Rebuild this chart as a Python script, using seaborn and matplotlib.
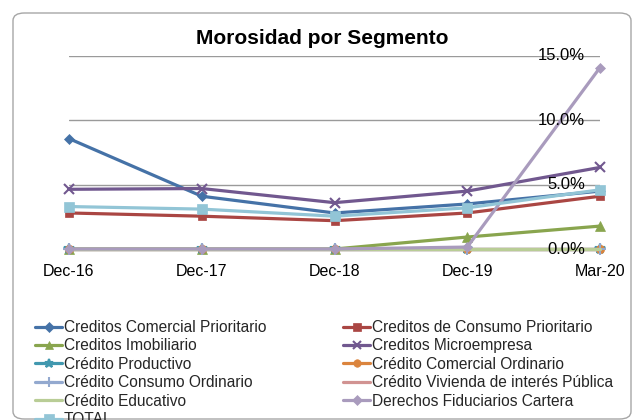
import matplotlib
matplotlib.use("Agg")
import matplotlib.pyplot as plt
import matplotlib.transforms as mtransforms
from matplotlib import font_manager
from matplotlib.patches import FancyBboxPatch
import seaborn as sns
import pandas as pd

categories = ["Dec-16", "Dec-17", "Dec-18", "Dec-19", "Mar-20"]
series_names = [
    "Creditos Comercial Prioritario",
    "Creditos de Consumo Prioritario",
    "Creditos Imobiliario",
    "Creditos Microempresa",
    "Crédito Productivo",
    "Crédito Comercial Ordinario",
    "Crédito Consumo Ordinario",
    "Crédito Vivienda de interés Pública",
    "Crédito Educativo",
    "Derechos Fiduciarios Cartera",
    "TOTAL",
]
comercial_prioritario = [0.0858, 0.0410, 0.0280, 0.0350, 0.0450]
consumo_prioritario = [0.0280, 0.0255, 0.0220, 0.0280, 0.0410]
imobiliario = [0.0, 0.0, 0.0, 0.0093, 0.0178]
microempresa = [0.0464, 0.0470, 0.0360, 0.0450, 0.0634]
productivo = [0.0, 0.0, 0.0, 0.0, 0.0]
comercial_ordinario = [0.0, 0.0, 0.0, 0.0, 0.0]
consumo_ordinario = [0.0, 0.0, 0.0, 0.0, 0.0]
vivienda_publica = [0.0, 0.0, 0.0, 0.0, 0.0]
educativo = [0.0, 0.0, 0.0, 0.0, 0.0]
derechos_fiduciarios = [0.0, 0.0, 0.0, 0.0015, 0.1410]
total = [0.0330, 0.0310, 0.0255, 0.0320, 0.0460]
y_ticks = [0.0, 0.05, 0.10, 0.15]
y_tick_labels = ["0.0%", "5.0%", "10.0%", "15.0%"]

values = [comercial_prioritario, consumo_prioritario, imobiliario, microempresa,
          productivo, comercial_ordinario, consumo_ordinario, vivienda_publica,
          educativo, derechos_fiduciarios, total]
colors = ["#4572A7", "#AA4643", "#89A54E", "#71588F", "#4198AF", "#DB843D",
          "#93A9CF", "#D19392", "#B9CD96", "#A99BBD", "#92C5D6"]
markers = ["D", "s", "^", "x", "*", "o", "+", None, None, "D", "s"]
msizes = [5.5, 6, 7, 7, 7, 6, 8, 0, 0, 5.5, 7.5]

sns.set_theme(style="white")
names = [f.name for f in font_manager.fontManager.ttflist]
fam = "Liberation Sans Narrow" if "Liberation Sans Narrow" in names else "Liberation Sans"
plt.rcParams["font.family"] = [fam, "DejaVu Sans"]

fig = plt.figure(figsize=(6.36, 4.2), dpi=100)
fig.patch.set_facecolor("white")
card = FancyBboxPatch((13 / 636, 1 - 419 / 420), (631 - 13) / 636, (419 - 13) / 420,
                      boxstyle="round,pad=0,rounding_size=0.018",
                      transform=fig.transFigure, facecolor="none",
                      edgecolor="#A6A6A6", linewidth=1.0, zorder=-5)
fig.patches.append(card)

x0, x1 = 69 / 636, 600 / 636
yb, yt = 1 - 249 / 420, 1 - 56 / 420
ax = fig.add_axes([x0, yb, x1 - x0, yt - yb])
ax.set_facecolor("none")
ax.patch.set_visible(False)

rows = []
for name, vals in zip(series_names, values):
    for i, v in enumerate(vals):
        rows.append({"serie": name, "x": i, "v": v})
df = pd.DataFrame(rows)

for k, name in enumerate(series_names):
    sub = df[df["serie"] == name]
    m = markers[k]
    if m:
        kw = dict(marker=m, markersize=msizes[k],
                  markeredgewidth=1.5 if m in ("x", "+", "*") else 0.5,
                  markeredgecolor=colors[k], markerfacecolor=colors[k])
    else:
        kw = dict(marker=None)
    sns.lineplot(data=sub, x="x", y="v", ax=ax, color=colors[k], linewidth=2.3,
                 label=name, legend=False, clip_on=False, zorder=3 + k * 0.1, **kw)

ax.set_xlim(0, 4)
ax.set_ylim(0, 0.15)
for yv in y_ticks:
    ax.axhline(yv, color="#9A9A9A", linewidth=1.0, zorder=1)
ax.set_yticks([])
ax.set_xticks([])
for s in ax.spines.values():
    s.set_visible(False)
ax.set_xlabel("")
ax.set_ylabel("")

ytrans = mtransforms.blended_transform_factory(fig.transFigure, ax.transData)
for yv, lab in zip(y_ticks, y_tick_labels):
    ax.text(585 / 636, yv, lab, transform=ytrans,
            ha="right", va="center", fontsize=12, color="black", zorder=10)
xtrans = mtransforms.blended_transform_factory(ax.transData, fig.transFigure)
for i, lab in enumerate(categories):
    ax.text(i, 1 - 272 / 420, lab, transform=xtrans,
            ha="center", va="center", fontsize=11.5, color="black")

fig.text(322 / 636, 1 - 39 / 420, "Morosidad por Segmento", ha="center", va="center",
         fontsize=15, fontweight="bold", color="black")

hmap = {h.get_label(): h for h in ax.get_lines() if h.get_label() in series_names}
col1 = [series_names[i] for i in (0, 2, 4, 6, 8, 10)]
col2 = [series_names[i] for i in (1, 3, 5, 7, 9)]
for col, xa in ((col1, 35 / 636), (col2, 343 / 636)):
    fig.legend([hmap[n] for n in col], col, loc="upper left",
               bbox_to_anchor=(xa, 1 - 320 / 420), frameon=False, fontsize=11.2,
               borderpad=0, borderaxespad=0, handlelength=1.75, handletextpad=0.1,
               labelspacing=0.22, markerscale=0.9)

fig.savefig("out.png", dpi=100)
